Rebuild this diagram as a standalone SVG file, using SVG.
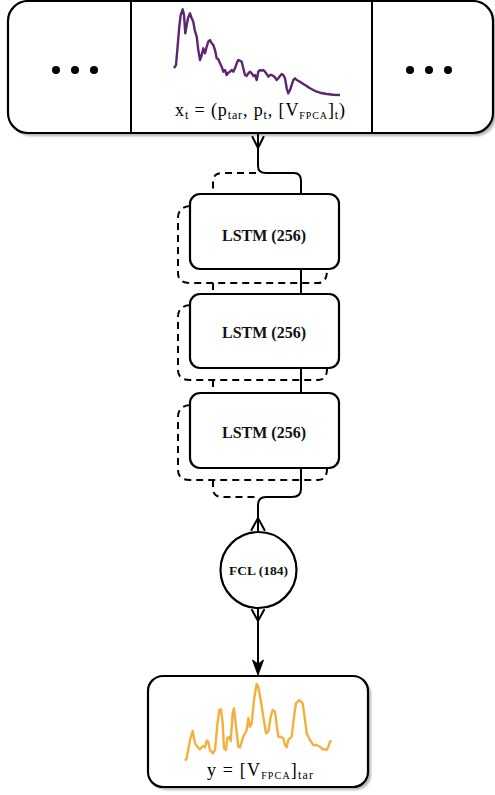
<svg xmlns="http://www.w3.org/2000/svg" width="495" height="795" viewBox="0 0 495 795">
<defs>
<style>
.box{fill:#fff;stroke:#000;stroke-width:2.2}
.shadow{fill:#b5b5b5}
.solid{fill:none;stroke:#000;stroke-width:2;stroke-linecap:round}
.dash{fill:none;stroke:#000;stroke-width:2;stroke-dasharray:7,5}
.lbl{font-family:"Liberation Serif",serif;font-weight:bold;text-anchor:middle;fill:#111}
.math{font-family:"Liberation Serif",serif;font-size:18px;fill:#000}
.dot{fill:#000}
</style>
<filter id="blur" x="-5%" y="-5%" width="110%" height="110%"><feGaussianBlur stdDeviation="1"/></filter>
</defs>

<g id="input-sequence">
<rect class="shadow" x="11" y="4" width="485" height="132" rx="20" filter="url(#blur)"/>
<rect class="box" x="8" y="1" width="485" height="132" rx="20"/>
<line x1="131" y1="1" x2="131" y2="133" stroke="#000" stroke-width="2"/>
<line x1="372" y1="1" x2="372" y2="133" stroke="#000" stroke-width="2"/>
<circle class="dot" cx="56" cy="70" r="4"/><circle class="dot" cx="75" cy="70" r="4"/><circle class="dot" cx="94" cy="70" r="4"/>
<circle class="dot" cx="410" cy="70" r="4"/><circle class="dot" cx="429" cy="70" r="4"/><circle class="dot" cx="448" cy="70" r="4"/>
<polyline fill="none" stroke="#5c2471" stroke-width="2.4" stroke-linejoin="round" points="174,68 176,65 177.3,50 179.3,26.7 180.7,15 182.7,9.3 184,15 185.3,33.3 186.7,25 188,18.3 190,13.3 191.7,18.3 193.3,21.7 194.7,30 196.7,36.7 198.3,50 200,60 201.7,55 203.3,48.3 205,53.3 206.7,46.7 208.3,41.7 210,40 211.7,43.3 213.3,45 215,50 216.7,58.3 218.3,59.3 220,63.3 221.7,66.7 223.3,71.7 225,70 226.7,75 228.3,72.7 230,71.7 231.7,70 233.3,71.7 235,68.3 236.7,63.3 238.3,60 240,60.7 241.7,61.7 243.3,68.3 245,75 246.7,76 248.3,73.3 250,71.7 251.7,73.3 253.3,76 255,75 256.7,80 258.3,71.7 260,70 261.7,70.7 263.3,70 265,71.7 266.7,74 268.3,76.7 270,75 271.7,75 273.3,76 275,77.3 276.7,80 278.3,78.3 280,76 281.7,74 283.3,75 285,78.3 286.7,88.3 288.3,93.3 290,90 291.7,85 293.3,80 295,78.3 296.7,80 300,81.7 303.3,84 306.7,86 310,88.3 313.3,90 316.7,91.7 320,92.7 326.7,94 333.3,94.7 340,95"/>
<text class="math" x="175" y="116" textLength="170" lengthAdjust="spacing">x<tspan font-size="12" dy="3">t</tspan><tspan dy="-3"> = (p</tspan><tspan font-size="12" dy="3">tar</tspan><tspan dy="-3">, p</tspan><tspan font-size="12" dy="3">t</tspan><tspan dy="-3">, [V</tspan><tspan font-size="10" dy="3">FPCA</tspan><tspan dy="-3">]</tspan><tspan font-size="12" dy="3">t</tspan><tspan dy="-3">)</tspan></text>
</g>

<g id="connectors">
<path class="solid" d="M258,133 L258,166 Q258,173 266,173 L294,173 Q301,173 301,181 L301,194"/>
<polyline class="solid" points="252.5,137 258,148 263.5,137"/>
<path class="dash" d="M256,173 L222,173 Q213,173 213,182 L213,194"/>
<path class="dash" d="M190,206 Q178,207 178,218 L178,273 Q178,283 190,283 L318,283 Q327,283 327,270"/>
<path class="dash" d="M190,305 Q178,306 178,317 L178,370 Q178,380 190,380 L318,380 Q327,380 327,369"/>
<path class="dash" d="M190,405 Q178,406 178,417 L178,470 Q178,480 190,480 L318,480 Q327,480 327,469"/>
<line class="dash" x1="213" y1="283" x2="213" y2="294" stroke-dasharray="none"/>
<line class="solid" x1="301" y1="269" x2="301" y2="294"/>
<line class="dash" x1="213" y1="380" x2="213" y2="393" stroke-dasharray="none"/>
<line class="solid" x1="301" y1="368" x2="301" y2="393"/>
<path class="dash" d="M213,480 L213,488 Q213,497 222,497 L256,497"/>
<path class="solid" d="M301,468 L301,489 Q301,497 292,497 L266,497 Q258,497 258,505 L258,532"/>
<polyline class="solid" points="251.5,530 258,518 264.5,530"/>
<line class="solid" x1="258" y1="608" x2="258" y2="664"/>
<polyline class="solid" points="252,610 258,621 264,610"/>
<path d="M258,675 L252.5,660 L258,664 L263.5,660 Z" fill="#000" stroke="#000" stroke-width="1" stroke-linejoin="round"/>
</g>

<g id="lstm1">
<rect class="box" x="190" y="194" width="149" height="75" rx="10"/>
<text class="lbl" x="264" y="241" font-size="16">LSTM (256)</text>
</g>
<g id="lstm2">
<rect class="box" x="190" y="294" width="149" height="74" rx="10"/>
<text class="lbl" x="264" y="338" font-size="16">LSTM (256)</text>
</g>
<g id="lstm3">
<rect class="box" x="190" y="393" width="149" height="75" rx="10"/>
<text class="lbl" x="264" y="438" font-size="16">LSTM (256)</text>
</g>

<g id="fcl">
<circle cx="258.5" cy="570" r="38" fill="#fff" stroke="#000" stroke-width="2.2"/>
<text class="lbl" x="258.5" y="575" font-size="13.5">FCL (184)</text>
</g>

<g id="output">
<rect class="shadow" x="151" y="679" width="220" height="111" rx="15" filter="url(#blur)"/>
<rect class="box" x="148" y="676" width="220" height="111" rx="15"/>
<polyline fill="none" stroke="#f2b13f" stroke-width="2.4" stroke-linejoin="round" points="185,760.7 186.7,758.3 190,740 192.7,731 195,743.3 197.3,746.7 200,749.3 202.7,746 205,747.3 206.7,740.7 208.3,741.7 210,750 212.7,753.3 215,750 217.3,725 219.3,710 221,709.3 222.7,723.3 224,748.3 226,750 227.3,738.3 229.3,736.7 230.7,741 232.7,713.3 234,708.3 236,726.7 238.3,746.7 240,747.3 243.3,736.7 246.7,730 248.3,718.3 250,726.7 251.7,723.3 254,700 256.7,684 258.3,686.7 260.7,700 263.3,716.7 266,733.3 268.3,731.7 270.7,716.7 272.7,710 275,711.7 276.7,725 278.3,736.7 280.7,736.7 283.3,738.3 285,745 286.7,747.3 288.3,740 291.7,736.7 294,716.7 296,703.3 299.3,700 302.7,703.3 305,720 306.7,733.3 310,740 313.3,745 316.7,745 320,746.7 322.7,749.3 325,749.3 326.7,750 328.3,746.7 330,741.7 331.7,740.7"/>
<text class="math" x="207" y="776" textLength="106" lengthAdjust="spacing">y = [V<tspan font-size="10" dy="3">FPCA</tspan><tspan dy="-3">]</tspan><tspan font-size="12" dy="3">tar</tspan></text>
</g>
</svg>
